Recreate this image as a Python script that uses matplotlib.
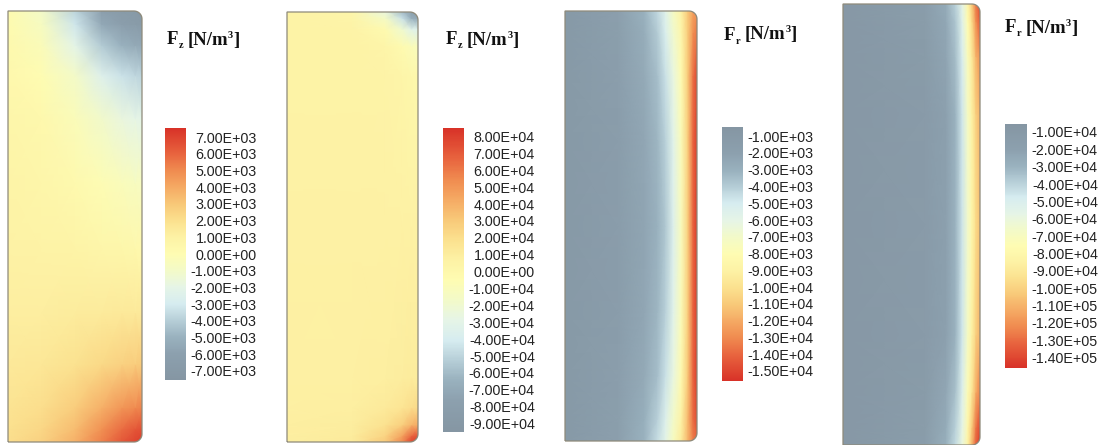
import numpy as np
import matplotlib.pyplot as plt
from matplotlib.colors import LinearSegmentedColormap, Normalize
from matplotlib.path import Path
from matplotlib.patches import PathPatch
from matplotlib.ticker import FormatStrFormatter
import matplotlib.cm as cm

# ---- panel 1 : F_z (units 1e3 N/m3), rows from bottom (z=0) to top (z=1)
fz1_r = [0, 0.25, 0.5, 0.7, 0.85, 0.95, 1.0]
fz1_z = [0, 0.03, 0.08, 0.18, 0.30, 0.45, 0.60, 0.75, 0.85, 0.92, 0.97, 1.0]
fz1_vals = [
    [2.1, 2.6, 3.8, 5.3, 6.4, 7.0, 7.2],
    [2.0, 2.4, 3.4, 4.8, 5.8, 6.4, 6.6],
    [1.8, 2.1, 2.8, 3.8, 4.6, 5.0, 5.2],
    [1.5, 1.6, 1.9, 2.3, 2.6, 2.8, 2.9],
    [1.2, 1.2, 1.3, 1.4, 1.5, 1.5, 1.5],
    [1.0, 0.9, 0.8, 0.6, 0.5, 0.4, 0.4],
    [0.8, 0.6, 0.3, -0.1, -0.4, -0.6, -0.6],
    [0.6, 0.4, -0.3, -1.1, -1.7, -2.0, -2.1],
    [0.4, 0.0, -1.0, -2.5, -3.3, -3.7, -3.8],
    [0.3, -0.3, -2.1, -4.1, -5.0, -5.4, -5.5],
    [0.2, -0.7, -3.2, -5.5, -6.3, -6.6, -6.8],
    [0.2, -1.0, -3.8, -6.1, -6.8, -7.0, -7.2],
]
fz1_ticks = [k * 1e3 for k in range(-7, 8)]

# ---- panel 2 : F_z (units 1e4 N/m3)
fz2_r = [0, 0.5, 0.75, 0.88, 0.95, 1.0]
fz2_z = [0, 0.015, 0.04, 0.08, 0.15, 0.5, 0.85, 0.92, 0.96, 0.985, 1.0]
fz2_vals = [
    [0.9, 1.2, 3.0, 5.5, 7.8, 8.3],
    [0.9, 1.1, 2.5, 4.5, 6.5, 7.2],
    [0.9, 1.0, 1.8, 2.8, 3.8, 4.2],
    [0.8, 0.9, 1.2, 1.6, 2.0, 2.2],
    [0.8, 0.8, 0.9, 1.0, 1.1, 1.1],
    [0.7, 0.7, 0.7, 0.7, 0.7, 0.7],
    [0.6, 0.6, 0.5, 0.3, 0.1, 0.0],
    [0.6, 0.6, 0.3, -0.3, -0.8, -1.0],
    [0.6, 0.5, -0.3, -2.0, -3.2, -3.5],
    [0.6, 0.3, -1.5, -4.5, -6.5, -7.0],
    [0.6, 0.2, -2.5, -6.0, -8.0, -8.5],
]
fz2_ticks = [k * 1e4 for k in range(-9, 9)]

# ---- panel 3 : F_r (units 1e3 N/m3)
fr3_r = [0, 0.4, 0.6, 0.7, 0.76, 0.82, 0.88, 0.93, 0.97, 1.0]
fr3_z = [0, 0.05, 0.15, 0.3, 0.5, 0.7, 0.85, 0.95, 1.0]
fr3_vals = [
    [-1.0, -1.9, -3.1, -4.5, -5.8, -7.4, -9.4, -11.6, -13.3, -14.0],
    [-1.0, -1.8, -2.9, -4.1, -5.4, -7.0, -9.0, -11.5, -13.8, -14.8],
    [-1.0, -1.7, -2.6, -3.5, -4.6, -6.2, -8.2, -11.0, -14.0, -15.3],
    [-1.0, -1.6, -2.4, -3.2, -4.1, -5.7, -7.7, -10.8, -14.0, -15.3],
    [-1.0, -1.6, -2.3, -3.0, -3.8, -5.4, -7.5, -10.8, -14.0, -15.4],
    [-1.0, -1.6, -2.4, -3.2, -4.1, -5.7, -7.7, -10.8, -14.0, -15.3],
    [-1.0, -1.7, -2.6, -3.5, -4.6, -6.2, -8.1, -10.9, -13.7, -15.0],
    [-1.0, -1.8, -2.8, -3.9, -5.2, -6.8, -8.6, -10.9, -12.8, -13.6],
    [-1.0, -1.9, -3.0, -4.3, -5.6, -7.2, -9.0, -11.0, -12.3, -12.8],
]
fr3_ticks = [k * 1e3 for k in range(-15, 0)]

# ---- panel 4 : F_r (units 1e4 N/m3)
fr4_r = [0, 0.6, 0.75, 0.82, 0.87, 0.91, 0.94, 0.97, 1.0]
fr4_z = [0, 0.04, 0.12, 0.25, 0.5, 0.75, 0.88, 0.96, 1.0]
fr4_vals = [
    [-0.9, -1.6, -2.8, -4.2, -6.0, -8.4, -10.8, -13.2, -14.5],
    [-0.9, -1.5, -2.6, -3.9, -5.7, -8.0, -10.2, -12.7, -14.0],
    [-0.9, -1.4, -2.3, -3.4, -5.1, -7.3, -9.1, -11.1, -12.5],
    [-0.9, -1.3, -2.0, -3.0, -4.6, -6.8, -8.5, -10.0, -11.0],
    [-0.9, -1.3, -2.0, -3.0, -4.5, -6.5, -8.0, -9.6, -10.6],
    [-0.9, -1.3, -2.0, -3.0, -4.6, -6.8, -8.5, -10.0, -11.0],
    [-0.9, -1.4, -2.2, -3.3, -4.9, -7.1, -8.9, -10.9, -12.0],
    [-0.9, -1.5, -2.4, -3.6, -5.3, -7.6, -9.6, -12.0, -13.5],
    [-0.9, -1.6, -2.6, -3.9, -5.6, -8.1, -10.2, -12.6, -14.0],
]
fr4_ticks = [k * 1e4 for k in range(-14, 0)]

W, H = 1107, 445
fig = plt.figure(figsize=(W / 100, H / 100), dpi=100)
fig.patch.set_facecolor('white')

cmap = LinearSegmentedColormap.from_list('cfd', [
    (0.00, (133/255, 150/255, 163/255)),
    (0.10, (140/255, 160/255, 174/255)),
    (0.17, (153/255, 177/255, 190/255)),
    (0.235, (182/255, 206/255, 215/255)),
    (0.30, (214/255, 236/255, 240/255)),
    (0.37, (230/255, 245/255, 230/255)),
    (0.435, (243/255, 250/255, 200/255)),
    (0.50, (254/255, 252/255, 178/255)),
    (0.565, (253/255, 242/255, 165/255)),
    (0.635, (251/255, 224/255, 142/255)),
    (0.70, (248/255, 200/255, 120/255)),
    (0.765, (245/255, 170/255, 100/255)),
    (0.83, (240/255, 140/255, 80/255)),
    (0.90, (232/255, 100/255, 62/255)),
    (1.00, (216/255, 50/255, 40/255)),
])


def px_axes(x0, x1, ytop, ybot):
    return fig.add_axes([x0 / W, 1 - ybot / H, (x1 - x0) / W, (ybot - ytop) / H])


def draw_panel(box, r, z, vals, scale, cm_, norm):
    x0, x1, ytop, ybot = box
    ax = px_axes(x0 - 1, x1 + 1, ytop - 1, ybot + 1)
    w, h = x1 - x0, ybot - ytop
    ax.set_xlim(-1, w + 1)
    ax.set_ylim(-1, h + 1)
    ax.set_axis_off()
    X, Y = np.meshgrid(np.array(r) * w, np.array(z) * h)
    C = np.array(vals) * scale
    mesh = ax.pcolormesh(X, Y, C, shading='gouraud', cmap=cm_, norm=norm)
    # outline with rounded right corners
    rad = 8
    t = np.linspace(0, np.pi / 2, 12)
    pts = [(0, 0), (w - rad, 0)]
    pts += [(w - rad + rad * np.sin(a), rad - rad * np.cos(a)) for a in t]
    pts += [(w, h - rad)]
    pts += [(w - rad + rad * np.cos(a), h - rad + rad * np.sin(a)) for a in t]
    pts += [(0, h), (0, 0)]
    path = Path(pts)
    patch = PathPatch(path, facecolor='none', edgecolor='#8e8a7a', lw=0.9)
    ax.add_patch(patch)
    mesh.set_clip_path(patch)
    return ax


def draw_bar(box, cm_, norm, ticks):
    x0, x1, ytop, ybot = box
    cax = px_axes(x0, x1, ytop, ybot)
    cb = fig.colorbar(cm.ScalarMappable(norm=norm, cmap=cm_), cax=cax, ticks=ticks)
    cb.outline.set_visible(False)
    cax.yaxis.set_major_formatter(FormatStrFormatter('%.2E'))
    cax.tick_params(length=0, pad=51, labelsize=10.3, labelcolor='#222222')
    for lab in cax.get_yticklabels():
        lab.set_horizontalalignment('right')
        lab.set_fontfamily('Liberation Sans')


def title(x, y, sub):
    # F + small subscript + unit with small superscript, bold serif
    kw = dict(family='Liberation Serif', weight='bold', ha='left', va='center',
              color='#111111')
    t1 = fig.text(x / W, 1 - y / H, 'F', fontsize=13.5, **kw)
    fig.canvas.draw()
    bb = t1.get_window_extent()
    fig.text((bb.x1 + 0.5) / W, 1 - (y + 6) / H, sub, fontsize=7.5, **kw)
    t3 = fig.text((bb.x1 + 9) / W, 1 - y / H, '[N/m', fontsize=13.5, **kw)
    fig.canvas.draw()
    bb3 = t3.get_window_extent()
    t4 = fig.text(bb3.x1 / W, 1 - (y - 5) / H, '3', fontsize=7.5, **kw)
    fig.canvas.draw()
    bb4 = t4.get_window_extent()
    fig.text(bb4.x1 / W, 1 - y / H, ']', fontsize=13.5, **kw)


cmap_r = cmap.reversed()
norm1 = Normalize(-7540, 7540)
norm2 = Normalize(-9.5e4, 8.5e4)
norm3 = Normalize(-1.56e4, -450)
norm4 = Normalize(-1.46e5, -5400)

draw_panel((8, 142, 11, 442), fz1_r, fz1_z, fz1_vals, 1e3, cmap, norm1)
draw_panel((287, 418, 12, 442), fz2_r, fz2_z, fz2_vals, 1e4, cmap, norm2)
draw_panel((565, 697, 11, 441), fr3_r, fr3_z, fr3_vals, 1e3, cmap_r, norm3)
draw_panel((843, 980, 4, 445), fr4_r, fr4_z, fr4_vals, 1e4, cmap_r, norm4)

draw_bar((165, 186, 128, 380), cmap, norm1, fz1_ticks)
draw_bar((443, 464, 128, 432), cmap, norm2, fz2_ticks)
draw_bar((722, 743, 127, 381), cmap_r, norm3, fr3_ticks)
draw_bar((1005, 1027, 124, 368), cmap_r, norm4, fr4_ticks)

title(167, 40, 'z')
title(446, 40, 'z')
title(724, 35, 'r')
title(1005, 28, 'r')

fig.savefig('out.png', dpi=100)
